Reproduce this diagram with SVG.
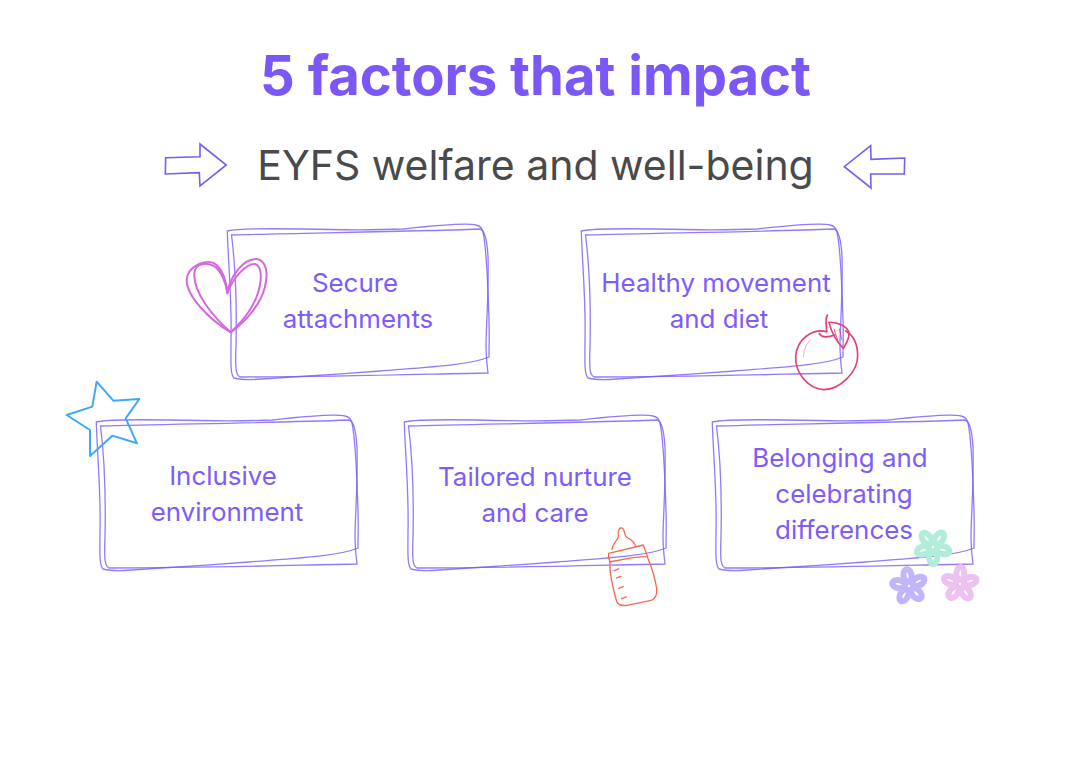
<svg xmlns="http://www.w3.org/2000/svg" width="1071" height="757" viewBox="0 0 1071 757">
<style>
text{font-family:Inter,"Noto Sans","Liberation Sans",sans-serif;text-anchor:middle}
.title{font-size:54.4px;font-weight:700;fill:#7c57f8}
.sub{font-size:41px;font-weight:400;fill:#4a4a4a}
.lab{font-size:25.9px;font-weight:400;fill:#7d5cf9}
.frame path{fill:none;stroke:#7a58f8;stroke-width:1.3;opacity:.8}
.ar{fill:none;stroke:#7a5cf0;stroke-width:1.6;stroke-linejoin:miter}
.sk{fill:none;stroke-linecap:round;stroke-linejoin:round}
.petal{fill:none;stroke-width:6}
</style>
<defs>
<g id="frame" class="frame">
<path d="M227.3,231C240,228 270,228.5 300,229C340,230 380,230 403,229C430,226 465,222 476,225C481,226 482,229 483,232C487,250 488,290 489,320C489.5,335 489,347 489,357C470,365 430,367 380,371C340,374 290,377 262,379C250,380 240,379.5 234,378C230,374 231,360 231,340C232,300 228,260 227.3,231Z"/>
<path d="M231.5,235C300,233 400,232 480,229C485,230 487,240 488,256C489,290 486,330 486,345C486,355 487,365 488,373C430,374 340,377 240,377C236,375 235,370 236,346C237,300 235,263 231.5,235Z"/>
</g>
<g id="flower">
<ellipse class="petal" cx="0" cy="-10.5" rx="4" ry="6.5"/>
<ellipse class="petal" cx="0" cy="-10.5" rx="4" ry="6.5" transform="rotate(72)"/>
<ellipse class="petal" cx="0" cy="-10.5" rx="4" ry="6.5" transform="rotate(144)"/>
<ellipse class="petal" cx="0" cy="-10.5" rx="4" ry="6.5" transform="rotate(216)"/>
<ellipse class="petal" cx="0" cy="-10.5" rx="4" ry="6.5" transform="rotate(288)"/>
</g>
</defs>
<rect width="1071" height="757" fill="#fff"/>
<g id="heading">
<text class="title" x="535.5" y="95">5 factors that impact</text>
<text class="sub" x="535.5" y="180">EYFS welfare and well-being</text>
</g>
<g id="connectors">
<path class="ar" d="M165.7,157.7L200,156.7V144L226.3,165L200,186L199.3,172.7L165.3,174Z"/>
<path class="ar" d="M904.7,158L871,159.3L870.7,145.7L844.3,166.7L871,188L870.7,174H904.3Z"/>
</g>
<g id="node-secure">
<use href="#frame"/>
<text class="lab" x="355" y="292">Secure</text>
<text class="lab" x="358" y="328">attachments</text>
<g class="sk" stroke="#d568e0" stroke-width="6" transform="translate(150 130) scale(.3333)">
<path d="M242,607C180,570 110,500 110,450C112,410 170,380 200,405C220,425 230,460 232,490C240,440 280,385 320,387C350,392 355,430 345,470C330,530 280,580 242,607Z"/>
<path d="M242,607C190,560 130,490 133,430C135,400 170,395 195,410C215,425 228,460 232,490C250,440 290,400 315,402C340,410 335,460 320,500C300,550 270,580 242,607Z"/>
</g>
</g>
<g id="node-movement">
<use href="#frame" x="354"/>
<text class="lab" x="716" y="292">Healthy movement</text>
<text class="lab" x="719" y="328">and diet</text>
<g class="sk" stroke="#e2407a" stroke-width="5" transform="translate(780 305) scale(.3333)">
<path d="M140,80C100,70 50,100 47,155C45,200 80,250 130,254C180,255 235,200 233,150C232,110 215,88 197,78"/>
<path d="M142,30C134,45 140,62 140,80"/>
<path d="M147,52C170,50 205,65 207,85C208,105 195,120 190,130C170,110 155,85 147,52Z"/>
<path d="M118,85C125,100 150,95 165,90"/>
<path d="M162,72L175,112M178,72L186,105" stroke-width="2.5"/>
<path d="M70,155C72,130 80,115 92,105" stroke-width="2.5" opacity=".5"/>
</g>
</g>
<g id="node-inclusive">
<use href="#frame" x="-131" y="191"/>
<text class="lab" x="223" y="485">Inclusive</text>
<text class="lab" x="227" y="521">environment</text>
<path class="sk" stroke="#3fa9f5" stroke-width="6" transform="translate(60 375) scale(.3333)" d="M110,20L160,77L238,72L197,130L231,205L157,182L90,243L90,165L20,120L97,95Z"/>
</g>
<g id="node-nurture">
<use href="#frame" x="177" y="191"/>
<text class="lab" x="535" y="486">Tailored nurture</text>
<text class="lab" x="535" y="522">and care</text>
<g class="sk" stroke="#f4694f" stroke-width="4" transform="translate(560 500) scale(.3333)">
<path d="M150,186C148,210 155,250 170,305C175,315 185,318 200,316L270,302C288,298 292,285 290,265C285,230 270,190 262,170"/>
<path d="M146,160L250,135C255,150 262,165 262,170C220,170 180,180 150,186C145,175 145,165 146,160Z"/>
<path d="M156,148C158,130 170,125 175,110C172,90 180,80 188,85C195,90 192,105 200,112C215,118 222,125 228,140"/>
<path d="M162,212l14,-5M170,234l13,-5M176,265l14,-5M185,296l14,-5"/>
</g>
</g>
<g id="node-belonging">
<use href="#frame" x="485" y="191"/>
<text class="lab" x="840" y="467">Belonging and</text>
<text class="lab" x="844" y="503">celebrating</text>
<text class="lab" x="844" y="539">differences</text>
<use href="#flower" transform="translate(933 547) rotate(35)" stroke="#b2ecdb"/>
<use href="#flower" transform="translate(909 586) rotate(-8)" stroke="#c4b4fb"/>
<use href="#flower" transform="translate(960 584) rotate(2)" stroke="#ecc2f1"/>
</g>
</svg>
